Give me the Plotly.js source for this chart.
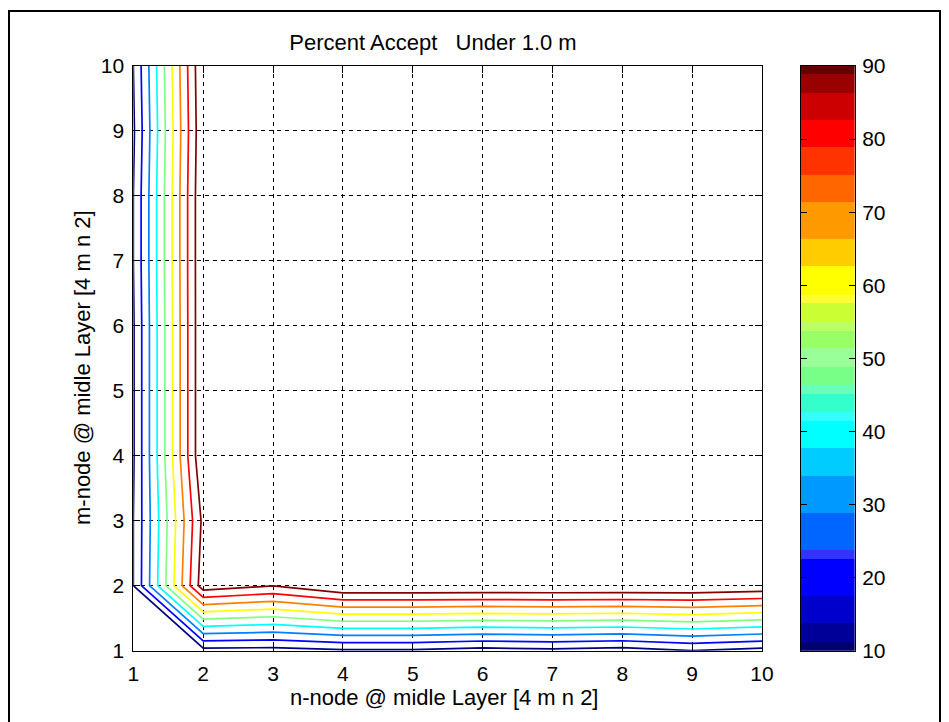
<!DOCTYPE html>
<html><head><meta charset="utf-8">
<script src="https://cdn.plot.ly/plotly-3.0.1.min.js"></script>
<style>html,body{margin:0;padding:0;background:#fff}#chart{width:949px;height:722px}</style>
</head><body><div id="chart"></div>
<script>
// grid axes
const nNode = [1, 2, 3, 4, 5, 6, 7, 8, 9, 10];
const mNode = [1, 2, 3, 4, 5, 6, 7, 8, 9, 10];
// percent accept, one row per m-node value (m = 1 .. 10), columns n = 1 .. 10
const pctM1  = [4,    6.5,  6,    8.5, 8.5, 6,   7.5, 5.5, 9.9, 6.5];
const pctM2  = [9.95, 96,   90.2, 100, 100, 100, 100, 100, 100, 98];
const pctM3  = [9.95, 92.5, 100,  100, 100, 100, 100, 100, 100, 100];
const pctM4  = [9,    100,  100,  100, 100, 100, 100, 100, 100, 100];
const pctM5  = [9,    100,  100,  100, 100, 100, 100, 100, 100, 100];
const pctM6  = [9,    100,  100,  100, 100, 100, 100, 100, 100, 100];
const pctM7  = [9.95, 100,  100,  100, 100, 100, 100, 100, 100, 100];
const pctM8  = [9.95, 100,  100,  100, 100, 100, 100, 100, 100, 100];
const pctM9  = [8.5,  99,   100,  100, 100, 100, 100, 100, 100, 100];
const pctM10 = [9.95, 100,  100,  100, 100, 100, 100, 100, 100, 100];
const zGrid = [pctM1, pctM2, pctM3, pctM4, pctM5, pctM6, pctM7, pctM8, pctM9, pctM10];

// contour levels and their jet colours
const levels = [10, 20, 30, 40, 50, 60, 70, 80, 90];
const levelColors = ['#000080', '#0000FF', '#0080FF', '#00FFFF', '#80FF80', '#FFFF00', '#FF8000', '#FF0000', '#800000'];

// colorbar bands (edges bottom->top and colours)
const bandEdges = [10, 11.23, 13.75, 17.49, 22.51, 23.78, 28.81, 33.96, 37.71, 41.44, 42.72, 45.10, 46.37, 48.88,
  51.40, 53.80, 55.04, 57.56, 58.69, 62.57, 66.32, 71.46, 75.12, 78.86, 82.65, 86.30, 88.94, 90];
const bandColors = ['#00006E', '#000099', '#0000CC', '#0000FF', '#3333FF', '#0066FF', '#0099FF', '#00CCFF', '#00FFFF',
  '#33FFFF', '#33FFCC', '#66FFBB', '#77FF88', '#99FF99', '#99FF66', '#BBFF66', '#CCFF33', '#FFFF33', '#FFFF00',
  '#FFCC00', '#FF9900', '#FF6600', '#FF3300', '#FF0000', '#CC0000', '#990000', '#660000'];
const colorbarTicks = [10, 20, 30, 40, 50, 60, 70, 80, 90];

const W = 949, H = 722;
const FONT = '"Liberation Sans", Arial, Helvetica, sans-serif';
const px = v => v / W;
const py = v => 1 - v / H;

const traces = levels.map((L, i) => ({
  type: 'contour', x: nNode, y: mNode, z: zGrid,
  autocontour: false,
  contours: { coloring: 'none', start: L, end: L, size: 10, showlabels: false },
  line: { color: levelColors[i], width: 1.7, smoothing: 0 },
  showscale: false, hoverinfo: 'skip', xaxis: 'x', yaxis: 'y'
}));

const nb = bandColors.length;
traces.push({
  type: 'heatmap', x: [0, 1], y: bandEdges,
  z: bandColors.map((c, i) => [i]),
  colorscale: bandColors.map((c, i) => [i / (nb - 1), c]),
  zmin: 0, zmax: nb - 1, showscale: false, hoverinfo: 'skip',
  xaxis: 'x2', yaxis: 'y2'
});

const yDom = [py(650.7), py(66)];
const axisCommon = {
  showline: true, linecolor: '#000', linewidth: 1, mirror: 'ticks',
  ticks: 'inside', ticklen: 7, tickcolor: '#000', tickwidth: 1,
  showgrid: true, gridcolor: '#000', gridwidth: 1, griddash: '4px,4px',
  zeroline: false, tickfont: { family: FONT, size: 21, color: '#000' },
  fixedrange: true
};

const layout = {
  width: W, height: H,
  margin: { l: 0, r: 0, t: 0, b: 0 },
  paper_bgcolor: '#fff', plot_bgcolor: '#fff',
  showlegend: false,
  font: { family: FONT, color: '#000' },
  title: { text: 'Percent Accept\u00a0\u00a0 Under 1.0 m', x: px(433), xanchor: 'center', y: py(42), yanchor: 'middle',
    font: { family: FONT, size: 22, color: '#000' } },
  xaxis: Object.assign({}, axisCommon, { domain: [px(133.3), px(762)], range: [1, 10], tickvals: nNode, anchor: 'y',
    ticklabelstandoff: 4 }),
  yaxis: Object.assign({}, axisCommon, { domain: yDom, range: [1, 10], tickvals: mNode, anchor: 'x',
    ticklabelstandoff: 4 }),
  xaxis2: { domain: [px(800.7), px(855)], range: [0, 1], anchor: 'y2', showline: true, mirror: true, linecolor: '#000',
    showgrid: false, zeroline: false, showticklabels: false, ticks: '', fixedrange: true },
  yaxis2: { domain: yDom, range: [10, 90], anchor: 'x2', side: 'right', showline: true, mirror: 'ticks', linecolor: '#000',
    ticks: 'inside', ticklen: 6, tickcolor: '#000', tickvals: colorbarTicks, showgrid: false, zeroline: false,
    tickfont: { family: FONT, size: 21, color: '#000' }, ticklabelstandoff: 2, fixedrange: true },
  annotations: [
    { text: 'n-node @ midle Layer [4 m n 2]', xref: 'paper', yref: 'paper', x: px(444), y: py(697),
      xanchor: 'center', yanchor: 'middle', showarrow: false, font: { family: FONT, size: 22, color: '#000' } },
    { text: 'm-node @ midle Layer [4 m n 2]', xref: 'paper', yref: 'paper', x: px(82), y: py(368),
      xanchor: 'center', yanchor: 'middle', textangle: -90, showarrow: false, font: { family: FONT, size: 22, color: '#000' } }
  ],
  shapes: [
    { type: 'rect', xref: 'paper', yref: 'paper', x0: px(9), x1: px(940), y0: -0.05, y1: py(11),
      line: { color: '#000', width: 2 }, fillcolor: 'rgba(0,0,0,0)' }
  ]
};

Plotly.newPlot('chart', traces, layout, { displayModeBar: false, staticPlot: true });
</script>
</body></html>
